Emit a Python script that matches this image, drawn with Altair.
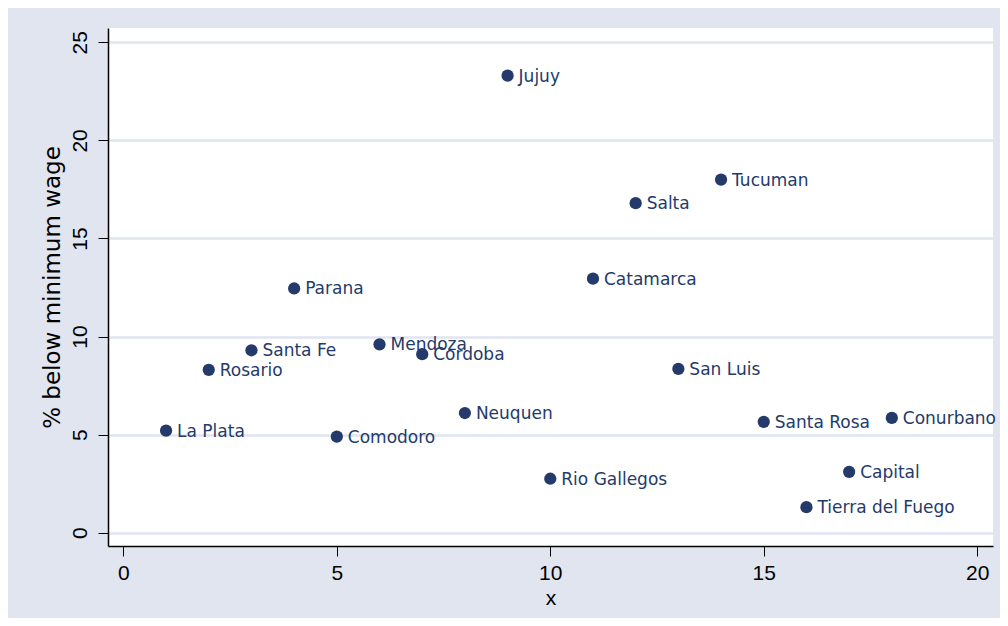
import altair as alt
import pandas as pd

cities = ["La Plata", "Rosario", "Santa Fe", "Parana", "Comodoro", "Mendoza",
          "Cordoba", "Neuquen", "Jujuy", "Rio Gallegos", "Catamarca", "Salta",
          "San Luis", "Tucuman", "Santa Rosa", "Tierra del Fuego", "Capital",
          "Conurbano"]
x_vals = [1, 2, 3, 4, 5, 6, 7, 8, 9, 10, 11, 12, 13, 14, 15, 16, 17, 18]
pct_below = [5.2, 8.3, 9.3, 12.45, 4.9, 9.6, 9.1, 6.1, 23.3, 2.75, 12.95, 16.8,
             8.35, 18.0, 5.65, 1.3, 3.1, 5.85]
y_ticks = [0, 5, 10, 15, 20, 25]
x_ticks = [0, 5, 10, 15, 20]

df = pd.DataFrame({"city": cities, "x": x_vals, "pct": pct_below})

BG = "#e1e5ef"
NAVY = "#233a6a"

xenc = alt.X("x:Q", title="x",
             scale=alt.Scale(domain=[-0.36, 20.37], nice=False, zero=False),
             axis=alt.Axis(values=x_ticks, grid=False, format="d",
                           labelFontSize=21, titleFontSize=21,
                           labelPadding=6, titlePadding=4,
                           labelFont="Liberation Sans", titleFont="Liberation Sans",
                           titleFontWeight="normal",
                           labelColor="#000000", titleColor="#000000",
                           tickSize=10, tickColor="#000000",
                           domainColor="#000000", domainWidth=1.5,
                           labelFlush=False))
yenc = alt.Y("pct:Q", title="% below minimum wage",
             scale=alt.Scale(domain=[-0.68, 25.73], nice=False, zero=False),
             axis=alt.Axis(values=y_ticks, grid=True, gridColor=BG, gridWidth=2.5,
                           format="d",
                           labelFontSize=21, titleFontSize=23,
                           labelAngle=270, labelAlign="center",
                           labelBaseline="bottom",
                           labelPadding=8, titlePadding=5,
                           labelFont="Liberation Sans", titleFont="DejaVu Sans",
                           titleFontWeight="normal",
                           labelColor="#000000", titleColor="#000000",
                           tickSize=10, tickColor="#000000",
                           domainColor="#000000", domainWidth=1.5,
                           labelFlush=False))

points = alt.Chart(df).mark_circle(size=150, color=NAVY, opacity=1).encode(
    x=xenc, y=yenc)

labels = alt.Chart(df).mark_text(align="left", baseline="middle", dx=11, dy=1,
                                 fontSize=17, font="DejaVu Sans",
                                 color=NAVY).encode(
    x="x:Q", y="pct:Q", text="city:N")

chart = (points + labels).properties(
    width=885, height=518,
    background=BG,
    padding={"left": 100, "top": 20, "right": 7, "bottom": 72},
    autosize=alt.AutoSizeParams(type="none"),
).configure_view(fill="white", stroke=None)

chart.save("out.html", embed_options={"renderer": "svg", "actions": False})
